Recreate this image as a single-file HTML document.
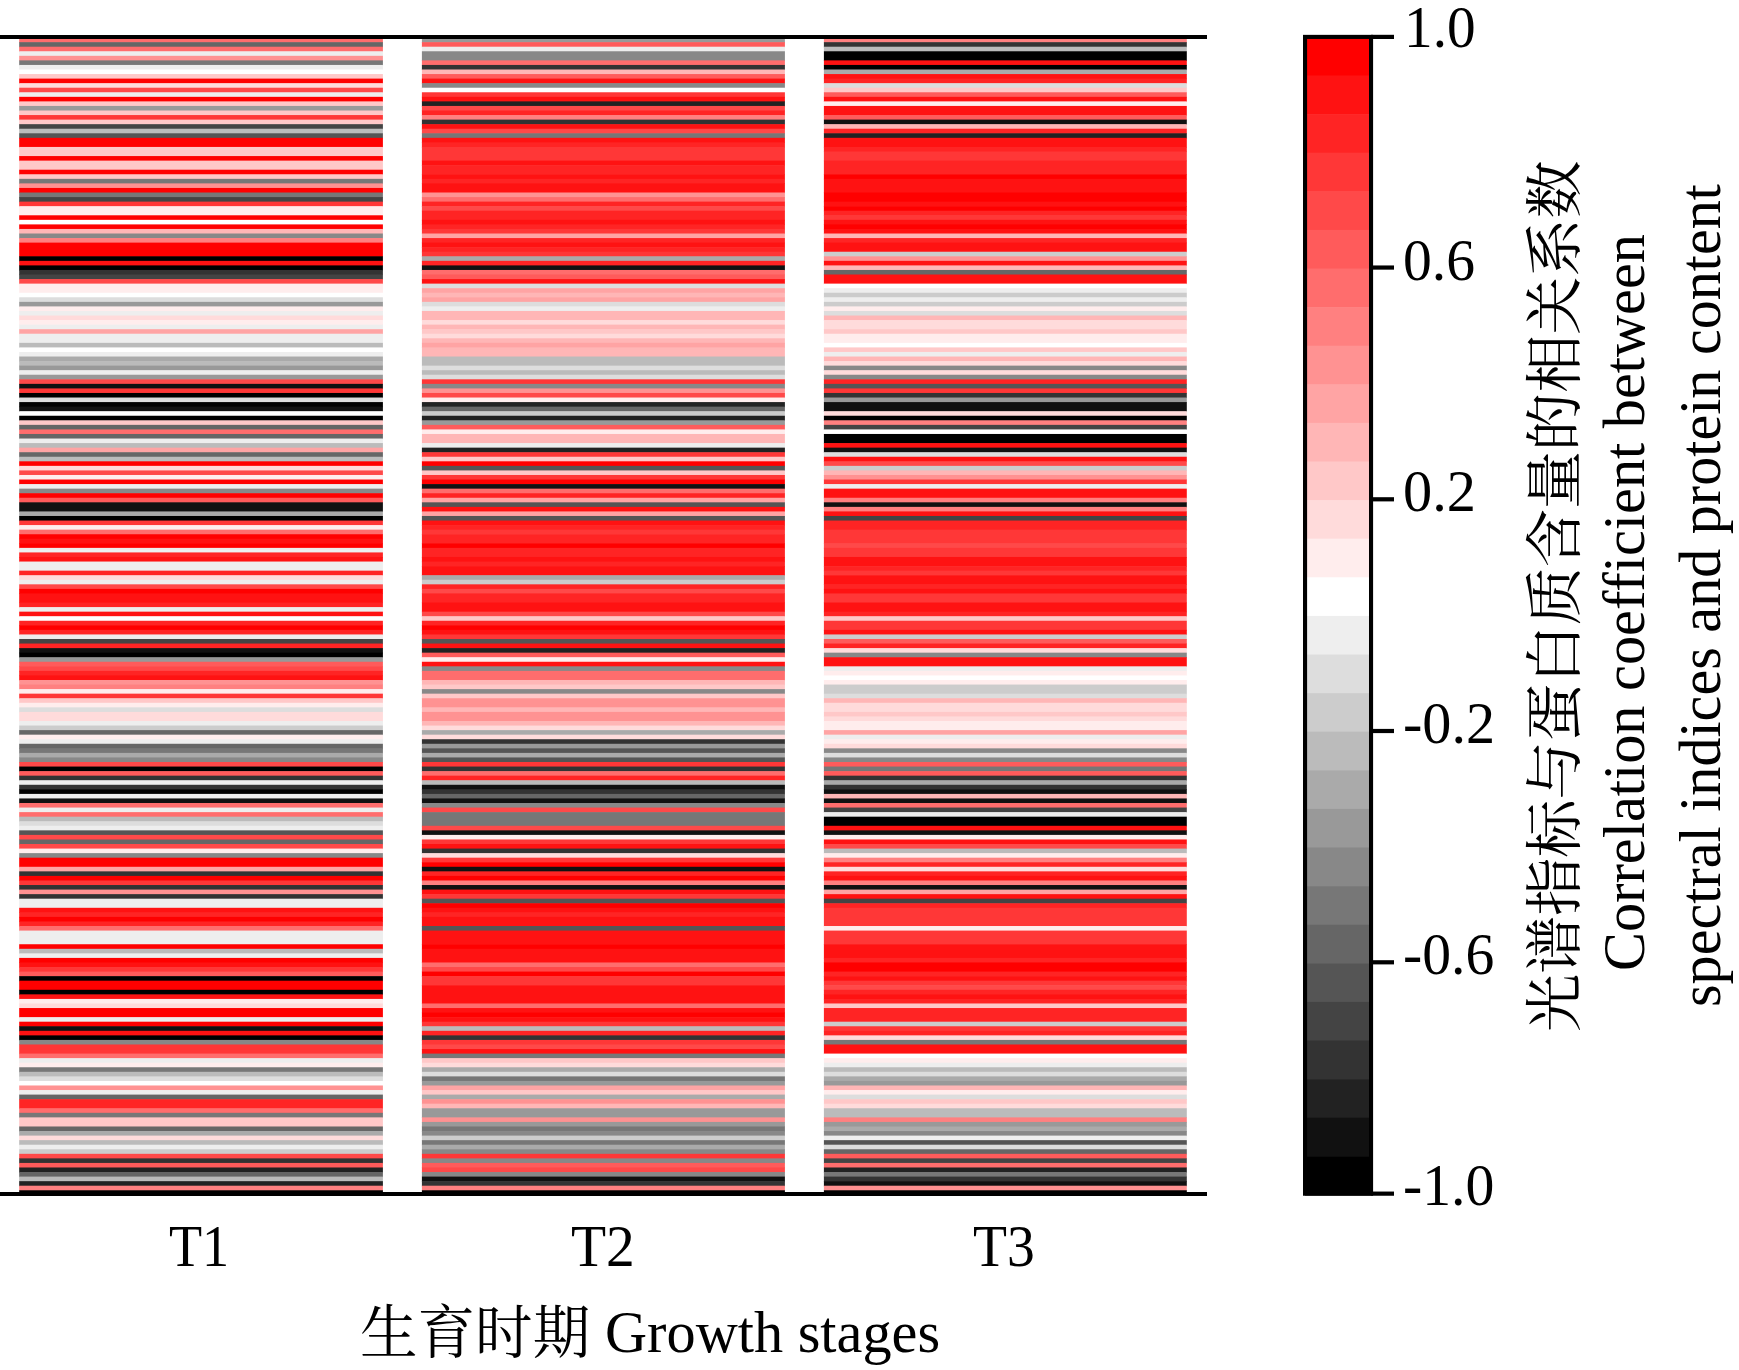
<!DOCTYPE html>
<html><head><meta charset="utf-8"><title>Heatmap</title>
<style>
html,body{margin:0;padding:0;background:#fff;}
body{width:1739px;height:1370px;position:relative;overflow:hidden;font-family:"Liberation Serif","Noto Serif CJK SC",serif;color:#000;}
svg{position:absolute;left:0;top:0;}
.t{position:absolute;white-space:nowrap;line-height:1;transform-origin:0 0;}
</style></head><body>
<svg width="1739" height="1370" viewBox="0 0 1739 1370">
<g>
<rect x="19.2" y="37.60" width="363.7" height="5.16" fill="#ff6d6d"/>
<rect x="19.2" y="42.16" width="363.7" height="5.16" fill="#666666"/>
<rect x="19.2" y="46.71" width="363.7" height="5.16" fill="#ff6d6d"/>
<rect x="19.2" y="51.27" width="363.7" height="5.16" fill="#eeeeee"/>
<rect x="19.2" y="55.82" width="363.7" height="5.16" fill="#ff9292"/>
<rect x="19.2" y="60.38" width="363.7" height="5.16" fill="#777777"/>
<rect x="19.2" y="64.94" width="363.7" height="5.16" fill="#eeeeee"/>
<rect x="19.2" y="69.49" width="363.7" height="5.16" fill="#ffffff"/>
<rect x="19.2" y="74.05" width="363.7" height="5.16" fill="#ffc8c8"/>
<rect x="19.2" y="78.60" width="363.7" height="5.16" fill="#ff0000"/>
<rect x="19.2" y="83.16" width="363.7" height="5.16" fill="#ffdbdb"/>
<rect x="19.2" y="87.72" width="363.7" height="5.16" fill="#ff4949"/>
<rect x="19.2" y="92.27" width="363.7" height="5.16" fill="#eeeeee"/>
<rect x="19.2" y="96.83" width="363.7" height="5.16" fill="#ff0000"/>
<rect x="19.2" y="101.38" width="363.7" height="5.16" fill="#ffc8c8"/>
<rect x="19.2" y="105.94" width="363.7" height="5.16" fill="#999999"/>
<rect x="19.2" y="110.50" width="363.7" height="5.16" fill="#ffc8c8"/>
<rect x="19.2" y="115.05" width="363.7" height="5.16" fill="#ff3737"/>
<rect x="19.2" y="119.61" width="363.7" height="5.16" fill="#ffc8c8"/>
<rect x="19.2" y="124.16" width="363.7" height="5.16" fill="#444444"/>
<rect x="19.2" y="128.72" width="363.7" height="5.16" fill="#bbbbbb"/>
<rect x="19.2" y="133.28" width="363.7" height="5.16" fill="#555555"/>
<rect x="19.2" y="137.83" width="363.7" height="9.71" fill="#ff0000"/>
<rect x="19.2" y="146.94" width="363.7" height="9.71" fill="#ffc8c8"/>
<rect x="19.2" y="156.06" width="363.7" height="5.16" fill="#ff0000"/>
<rect x="19.2" y="160.61" width="363.7" height="9.71" fill="#ffc8c8"/>
<rect x="19.2" y="169.72" width="363.7" height="5.16" fill="#ff0000"/>
<rect x="19.2" y="174.28" width="363.7" height="5.16" fill="#ffc8c8"/>
<rect x="19.2" y="178.84" width="363.7" height="5.16" fill="#777777"/>
<rect x="19.2" y="183.39" width="363.7" height="5.16" fill="#ff9292"/>
<rect x="19.2" y="187.95" width="363.7" height="5.16" fill="#ff0000"/>
<rect x="19.2" y="192.50" width="363.7" height="5.16" fill="#777777"/>
<rect x="19.2" y="197.06" width="363.7" height="5.16" fill="#444444"/>
<rect x="19.2" y="201.62" width="363.7" height="5.16" fill="#ff3737"/>
<rect x="19.2" y="206.17" width="363.7" height="9.71" fill="#ffeded"/>
<rect x="19.2" y="215.28" width="363.7" height="5.16" fill="#ff0000"/>
<rect x="19.2" y="219.84" width="363.7" height="5.16" fill="#ffffff"/>
<rect x="19.2" y="224.40" width="363.7" height="5.16" fill="#ff0000"/>
<rect x="19.2" y="228.95" width="363.7" height="5.16" fill="#ffb6b6"/>
<rect x="19.2" y="233.51" width="363.7" height="5.16" fill="#888888"/>
<rect x="19.2" y="238.06" width="363.7" height="5.16" fill="#ff8080"/>
<rect x="19.2" y="242.62" width="363.7" height="14.27" fill="#ff0000"/>
<rect x="19.2" y="256.29" width="363.7" height="5.16" fill="#000000"/>
<rect x="19.2" y="260.84" width="363.7" height="5.16" fill="#ff1212"/>
<rect x="19.2" y="265.40" width="363.7" height="5.16" fill="#000000"/>
<rect x="19.2" y="269.96" width="363.7" height="5.16" fill="#333333"/>
<rect x="19.2" y="274.51" width="363.7" height="5.16" fill="#444444"/>
<rect x="19.2" y="279.07" width="363.7" height="5.16" fill="#ff4949"/>
<rect x="19.2" y="283.62" width="363.7" height="9.71" fill="#ffeded"/>
<rect x="19.2" y="292.74" width="363.7" height="5.16" fill="#ffffff"/>
<rect x="19.2" y="297.29" width="363.7" height="5.16" fill="#dddddd"/>
<rect x="19.2" y="301.85" width="363.7" height="5.16" fill="#999999"/>
<rect x="19.2" y="306.40" width="363.7" height="5.16" fill="#ffeded"/>
<rect x="19.2" y="310.96" width="363.7" height="5.16" fill="#eeeeee"/>
<rect x="19.2" y="315.52" width="363.7" height="5.16" fill="#ffdbdb"/>
<rect x="19.2" y="320.07" width="363.7" height="5.16" fill="#ffeded"/>
<rect x="19.2" y="324.63" width="363.7" height="5.16" fill="#eeeeee"/>
<rect x="19.2" y="329.18" width="363.7" height="5.16" fill="#ffa4a4"/>
<rect x="19.2" y="333.74" width="363.7" height="9.71" fill="#eeeeee"/>
<rect x="19.2" y="342.85" width="363.7" height="5.16" fill="#bbbbbb"/>
<rect x="19.2" y="347.41" width="363.7" height="5.16" fill="#ffffff"/>
<rect x="19.2" y="351.96" width="363.7" height="5.16" fill="#eeeeee"/>
<rect x="19.2" y="356.52" width="363.7" height="5.16" fill="#aaaaaa"/>
<rect x="19.2" y="361.08" width="363.7" height="5.16" fill="#bbbbbb"/>
<rect x="19.2" y="365.63" width="363.7" height="5.16" fill="#999999"/>
<rect x="19.2" y="370.19" width="363.7" height="5.16" fill="#eeeeee"/>
<rect x="19.2" y="374.74" width="363.7" height="5.16" fill="#999999"/>
<rect x="19.2" y="379.30" width="363.7" height="5.16" fill="#ff4949"/>
<rect x="19.2" y="383.86" width="363.7" height="5.16" fill="#111111"/>
<rect x="19.2" y="388.41" width="363.7" height="5.16" fill="#ff3737"/>
<rect x="19.2" y="392.97" width="363.7" height="5.16" fill="#000000"/>
<rect x="19.2" y="397.52" width="363.7" height="5.16" fill="#dddddd"/>
<rect x="19.2" y="402.08" width="363.7" height="5.16" fill="#000000"/>
<rect x="19.2" y="406.64" width="363.7" height="5.16" fill="#111111"/>
<rect x="19.2" y="411.19" width="363.7" height="5.16" fill="#ffffff"/>
<rect x="19.2" y="415.75" width="363.7" height="5.16" fill="#000000"/>
<rect x="19.2" y="420.30" width="363.7" height="5.16" fill="#ffc8c8"/>
<rect x="19.2" y="424.86" width="363.7" height="5.16" fill="#666666"/>
<rect x="19.2" y="429.42" width="363.7" height="5.16" fill="#ff6d6d"/>
<rect x="19.2" y="433.97" width="363.7" height="5.16" fill="#666666"/>
<rect x="19.2" y="438.53" width="363.7" height="5.16" fill="#eeeeee"/>
<rect x="19.2" y="443.08" width="363.7" height="5.16" fill="#bbbbbb"/>
<rect x="19.2" y="447.64" width="363.7" height="5.16" fill="#ffa4a4"/>
<rect x="19.2" y="452.20" width="363.7" height="5.16" fill="#666666"/>
<rect x="19.2" y="456.75" width="363.7" height="5.16" fill="#bbbbbb"/>
<rect x="19.2" y="461.31" width="363.7" height="5.16" fill="#ff0000"/>
<rect x="19.2" y="465.86" width="363.7" height="5.16" fill="#ffdbdb"/>
<rect x="19.2" y="470.42" width="363.7" height="5.16" fill="#ff4949"/>
<rect x="19.2" y="474.98" width="363.7" height="5.16" fill="#ffeded"/>
<rect x="19.2" y="479.53" width="363.7" height="5.16" fill="#ff0000"/>
<rect x="19.2" y="484.09" width="363.7" height="5.16" fill="#eeeeee"/>
<rect x="19.2" y="488.64" width="363.7" height="5.16" fill="#888888"/>
<rect x="19.2" y="493.20" width="363.7" height="5.16" fill="#ff0000"/>
<rect x="19.2" y="497.76" width="363.7" height="5.16" fill="#ff5b5b"/>
<rect x="19.2" y="502.31" width="363.7" height="9.71" fill="#111111"/>
<rect x="19.2" y="511.42" width="363.7" height="5.16" fill="#aaaaaa"/>
<rect x="19.2" y="515.98" width="363.7" height="5.16" fill="#000000"/>
<rect x="19.2" y="520.54" width="363.7" height="5.16" fill="#ff3737"/>
<rect x="19.2" y="525.09" width="363.7" height="5.16" fill="#ffeded"/>
<rect x="19.2" y="529.65" width="363.7" height="5.16" fill="#ff6d6d"/>
<rect x="19.2" y="534.20" width="363.7" height="5.16" fill="#ff0000"/>
<rect x="19.2" y="538.76" width="363.7" height="5.16" fill="#ff1212"/>
<rect x="19.2" y="543.32" width="363.7" height="5.16" fill="#ff0000"/>
<rect x="19.2" y="547.87" width="363.7" height="5.16" fill="#eeeeee"/>
<rect x="19.2" y="552.43" width="363.7" height="5.16" fill="#ff2424"/>
<rect x="19.2" y="556.98" width="363.7" height="5.16" fill="#ff1212"/>
<rect x="19.2" y="561.54" width="363.7" height="9.71" fill="#eeeeee"/>
<rect x="19.2" y="570.65" width="363.7" height="5.16" fill="#ff2424"/>
<rect x="19.2" y="575.21" width="363.7" height="5.16" fill="#ffdbdb"/>
<rect x="19.2" y="579.76" width="363.7" height="5.16" fill="#eeeeee"/>
<rect x="19.2" y="584.32" width="363.7" height="5.16" fill="#ff4949"/>
<rect x="19.2" y="588.88" width="363.7" height="5.16" fill="#ff0000"/>
<rect x="19.2" y="593.43" width="363.7" height="9.71" fill="#ff1212"/>
<rect x="19.2" y="602.54" width="363.7" height="5.16" fill="#ff2424"/>
<rect x="19.2" y="607.10" width="363.7" height="5.16" fill="#eeeeee"/>
<rect x="19.2" y="611.66" width="363.7" height="5.16" fill="#ff1212"/>
<rect x="19.2" y="616.21" width="363.7" height="5.16" fill="#ffffff"/>
<rect x="19.2" y="620.77" width="363.7" height="5.16" fill="#ff2424"/>
<rect x="19.2" y="625.32" width="363.7" height="5.16" fill="#ff0000"/>
<rect x="19.2" y="629.88" width="363.7" height="5.16" fill="#ff2424"/>
<rect x="19.2" y="634.44" width="363.7" height="5.16" fill="#eeeeee"/>
<rect x="19.2" y="638.99" width="363.7" height="5.16" fill="#444444"/>
<rect x="19.2" y="643.55" width="363.7" height="5.16" fill="#ff2424"/>
<rect x="19.2" y="648.10" width="363.7" height="5.16" fill="#111111"/>
<rect x="19.2" y="652.66" width="363.7" height="5.16" fill="#000000"/>
<rect x="19.2" y="657.22" width="363.7" height="5.16" fill="#999999"/>
<rect x="19.2" y="661.77" width="363.7" height="5.16" fill="#ff5b5b"/>
<rect x="19.2" y="666.33" width="363.7" height="5.16" fill="#ff4949"/>
<rect x="19.2" y="670.88" width="363.7" height="5.16" fill="#ff2424"/>
<rect x="19.2" y="675.44" width="363.7" height="5.16" fill="#ff1212"/>
<rect x="19.2" y="680.00" width="363.7" height="5.16" fill="#ff9292"/>
<rect x="19.2" y="684.55" width="363.7" height="5.16" fill="#ff8080"/>
<rect x="19.2" y="689.11" width="363.7" height="5.16" fill="#ffeded"/>
<rect x="19.2" y="693.66" width="363.7" height="5.16" fill="#ff3737"/>
<rect x="19.2" y="698.22" width="363.7" height="5.16" fill="#ffc8c8"/>
<rect x="19.2" y="702.78" width="363.7" height="5.16" fill="#ffeded"/>
<rect x="19.2" y="707.33" width="363.7" height="5.16" fill="#dddddd"/>
<rect x="19.2" y="711.89" width="363.7" height="9.71" fill="#ffdbdb"/>
<rect x="19.2" y="721.00" width="363.7" height="5.16" fill="#eeeeee"/>
<rect x="19.2" y="725.56" width="363.7" height="5.16" fill="#cccccc"/>
<rect x="19.2" y="730.11" width="363.7" height="5.16" fill="#666666"/>
<rect x="19.2" y="734.67" width="363.7" height="5.16" fill="#ffeded"/>
<rect x="19.2" y="739.22" width="363.7" height="5.16" fill="#eeeeee"/>
<rect x="19.2" y="743.78" width="363.7" height="5.16" fill="#666666"/>
<rect x="19.2" y="748.34" width="363.7" height="5.16" fill="#777777"/>
<rect x="19.2" y="752.89" width="363.7" height="5.16" fill="#aaaaaa"/>
<rect x="19.2" y="757.45" width="363.7" height="5.16" fill="#888888"/>
<rect x="19.2" y="762.00" width="363.7" height="5.16" fill="#ff4949"/>
<rect x="19.2" y="766.56" width="363.7" height="5.16" fill="#000000"/>
<rect x="19.2" y="771.12" width="363.7" height="5.16" fill="#ff5b5b"/>
<rect x="19.2" y="775.67" width="363.7" height="5.16" fill="#333333"/>
<rect x="19.2" y="780.23" width="363.7" height="5.16" fill="#eeeeee"/>
<rect x="19.2" y="784.78" width="363.7" height="5.16" fill="#333333"/>
<rect x="19.2" y="789.34" width="363.7" height="5.16" fill="#000000"/>
<rect x="19.2" y="793.90" width="363.7" height="5.16" fill="#eeeeee"/>
<rect x="19.2" y="798.45" width="363.7" height="5.16" fill="#111111"/>
<rect x="19.2" y="803.01" width="363.7" height="5.16" fill="#ff6d6d"/>
<rect x="19.2" y="807.56" width="363.7" height="5.16" fill="#eeeeee"/>
<rect x="19.2" y="812.12" width="363.7" height="5.16" fill="#ff6d6d"/>
<rect x="19.2" y="816.68" width="363.7" height="5.16" fill="#bbbbbb"/>
<rect x="19.2" y="821.23" width="363.7" height="5.16" fill="#dddddd"/>
<rect x="19.2" y="825.79" width="363.7" height="5.16" fill="#eeeeee"/>
<rect x="19.2" y="830.34" width="363.7" height="5.16" fill="#555555"/>
<rect x="19.2" y="834.90" width="363.7" height="5.16" fill="#ff4949"/>
<rect x="19.2" y="839.46" width="363.7" height="5.16" fill="#666666"/>
<rect x="19.2" y="844.01" width="363.7" height="5.16" fill="#ff4949"/>
<rect x="19.2" y="848.57" width="363.7" height="5.16" fill="#ffeded"/>
<rect x="19.2" y="853.12" width="363.7" height="5.16" fill="#888888"/>
<rect x="19.2" y="857.68" width="363.7" height="9.71" fill="#ff0000"/>
<rect x="19.2" y="866.79" width="363.7" height="5.16" fill="#ffa4a4"/>
<rect x="19.2" y="871.35" width="363.7" height="5.16" fill="#333333"/>
<rect x="19.2" y="875.90" width="363.7" height="5.16" fill="#ff0000"/>
<rect x="19.2" y="880.46" width="363.7" height="5.16" fill="#ff3737"/>
<rect x="19.2" y="885.02" width="363.7" height="5.16" fill="#333333"/>
<rect x="19.2" y="889.57" width="363.7" height="5.16" fill="#ff9292"/>
<rect x="19.2" y="894.13" width="363.7" height="5.16" fill="#333333"/>
<rect x="19.2" y="898.68" width="363.7" height="9.71" fill="#eeeeee"/>
<rect x="19.2" y="907.80" width="363.7" height="5.16" fill="#ff1212"/>
<rect x="19.2" y="912.35" width="363.7" height="5.16" fill="#ff2424"/>
<rect x="19.2" y="916.91" width="363.7" height="5.16" fill="#ff0000"/>
<rect x="19.2" y="921.46" width="363.7" height="5.16" fill="#ff2424"/>
<rect x="19.2" y="926.02" width="363.7" height="5.16" fill="#ff6d6d"/>
<rect x="19.2" y="930.58" width="363.7" height="14.27" fill="#eeeeee"/>
<rect x="19.2" y="944.24" width="363.7" height="5.16" fill="#ff0000"/>
<rect x="19.2" y="948.80" width="363.7" height="5.16" fill="#bbbbbb"/>
<rect x="19.2" y="953.36" width="363.7" height="5.16" fill="#eeeeee"/>
<rect x="19.2" y="957.91" width="363.7" height="5.16" fill="#ff0000"/>
<rect x="19.2" y="962.47" width="363.7" height="5.16" fill="#ff1212"/>
<rect x="19.2" y="967.02" width="363.7" height="5.16" fill="#ff3737"/>
<rect x="19.2" y="971.58" width="363.7" height="5.16" fill="#ff5b5b"/>
<rect x="19.2" y="976.14" width="363.7" height="5.16" fill="#000000"/>
<rect x="19.2" y="980.69" width="363.7" height="9.71" fill="#ff0000"/>
<rect x="19.2" y="989.80" width="363.7" height="5.16" fill="#000000"/>
<rect x="19.2" y="994.36" width="363.7" height="5.16" fill="#ff1212"/>
<rect x="19.2" y="998.92" width="363.7" height="5.16" fill="#ffeded"/>
<rect x="19.2" y="1003.47" width="363.7" height="5.16" fill="#ffdbdb"/>
<rect x="19.2" y="1008.03" width="363.7" height="9.71" fill="#ff0000"/>
<rect x="19.2" y="1017.14" width="363.7" height="5.16" fill="#eeeeee"/>
<rect x="19.2" y="1021.70" width="363.7" height="5.16" fill="#ff0000"/>
<rect x="19.2" y="1026.25" width="363.7" height="5.16" fill="#111111"/>
<rect x="19.2" y="1030.81" width="363.7" height="5.16" fill="#ff1212"/>
<rect x="19.2" y="1035.36" width="363.7" height="5.16" fill="#000000"/>
<rect x="19.2" y="1039.92" width="363.7" height="5.16" fill="#888888"/>
<rect x="19.2" y="1044.48" width="363.7" height="9.71" fill="#ff3737"/>
<rect x="19.2" y="1053.59" width="363.7" height="5.16" fill="#ff6d6d"/>
<rect x="19.2" y="1058.14" width="363.7" height="5.16" fill="#eeeeee"/>
<rect x="19.2" y="1062.70" width="363.7" height="5.16" fill="#ffeded"/>
<rect x="19.2" y="1067.26" width="363.7" height="5.16" fill="#777777"/>
<rect x="19.2" y="1071.81" width="363.7" height="5.16" fill="#bbbbbb"/>
<rect x="19.2" y="1076.37" width="363.7" height="5.16" fill="#dddddd"/>
<rect x="19.2" y="1080.92" width="363.7" height="5.16" fill="#ffffff"/>
<rect x="19.2" y="1085.48" width="363.7" height="5.16" fill="#ff9292"/>
<rect x="19.2" y="1090.04" width="363.7" height="5.16" fill="#eeeeee"/>
<rect x="19.2" y="1094.59" width="363.7" height="5.16" fill="#666666"/>
<rect x="19.2" y="1099.15" width="363.7" height="9.71" fill="#ff2424"/>
<rect x="19.2" y="1108.26" width="363.7" height="5.16" fill="#ff6d6d"/>
<rect x="19.2" y="1112.82" width="363.7" height="5.16" fill="#777777"/>
<rect x="19.2" y="1117.37" width="363.7" height="9.71" fill="#ffc8c8"/>
<rect x="19.2" y="1126.48" width="363.7" height="5.16" fill="#666666"/>
<rect x="19.2" y="1131.04" width="363.7" height="5.16" fill="#aaaaaa"/>
<rect x="19.2" y="1135.60" width="363.7" height="5.16" fill="#ffdbdb"/>
<rect x="19.2" y="1140.15" width="363.7" height="5.16" fill="#bbbbbb"/>
<rect x="19.2" y="1144.71" width="363.7" height="5.16" fill="#eeeeee"/>
<rect x="19.2" y="1149.26" width="363.7" height="5.16" fill="#cccccc"/>
<rect x="19.2" y="1153.82" width="363.7" height="5.16" fill="#ff4949"/>
<rect x="19.2" y="1158.38" width="363.7" height="5.16" fill="#333333"/>
<rect x="19.2" y="1162.93" width="363.7" height="5.16" fill="#ff5b5b"/>
<rect x="19.2" y="1167.49" width="363.7" height="5.16" fill="#222222"/>
<rect x="19.2" y="1172.04" width="363.7" height="5.16" fill="#666666"/>
<rect x="19.2" y="1176.60" width="363.7" height="5.16" fill="#bbbbbb"/>
<rect x="19.2" y="1181.16" width="363.7" height="5.16" fill="#222222"/>
<rect x="19.2" y="1185.71" width="363.7" height="5.16" fill="#ff8080"/>
<rect x="19.2" y="1190.27" width="363.7" height="4.56" fill="#000000"/>
<rect x="421.9" y="37.60" width="363.0" height="5.16" fill="#999999"/>
<rect x="421.9" y="42.16" width="363.0" height="5.16" fill="#ff5b5b"/>
<rect x="421.9" y="46.71" width="363.0" height="5.16" fill="#eeeeee"/>
<rect x="421.9" y="51.27" width="363.0" height="9.71" fill="#888888"/>
<rect x="421.9" y="60.38" width="363.0" height="5.16" fill="#ff6d6d"/>
<rect x="421.9" y="64.94" width="363.0" height="5.16" fill="#333333"/>
<rect x="421.9" y="69.49" width="363.0" height="5.16" fill="#ffb6b6"/>
<rect x="421.9" y="74.05" width="363.0" height="5.16" fill="#ff5b5b"/>
<rect x="421.9" y="78.60" width="363.0" height="5.16" fill="#ff1212"/>
<rect x="421.9" y="83.16" width="363.0" height="5.16" fill="#888888"/>
<rect x="421.9" y="87.72" width="363.0" height="5.16" fill="#ffffff"/>
<rect x="421.9" y="92.27" width="363.0" height="5.16" fill="#ff3737"/>
<rect x="421.9" y="96.83" width="363.0" height="5.16" fill="#ff1212"/>
<rect x="421.9" y="101.38" width="363.0" height="5.16" fill="#222222"/>
<rect x="421.9" y="105.94" width="363.0" height="5.16" fill="#ff4949"/>
<rect x="421.9" y="110.50" width="363.0" height="5.16" fill="#ff2424"/>
<rect x="421.9" y="115.05" width="363.0" height="5.16" fill="#ff8080"/>
<rect x="421.9" y="119.61" width="363.0" height="5.16" fill="#333333"/>
<rect x="421.9" y="124.16" width="363.0" height="5.16" fill="#ff1212"/>
<rect x="421.9" y="128.72" width="363.0" height="5.16" fill="#ff4949"/>
<rect x="421.9" y="133.28" width="363.0" height="5.16" fill="#777777"/>
<rect x="421.9" y="137.83" width="363.0" height="5.16" fill="#ff1212"/>
<rect x="421.9" y="142.39" width="363.0" height="5.16" fill="#ff2424"/>
<rect x="421.9" y="146.94" width="363.0" height="14.27" fill="#ff3737"/>
<rect x="421.9" y="160.61" width="363.0" height="5.16" fill="#ff1212"/>
<rect x="421.9" y="165.17" width="363.0" height="9.71" fill="#ff2424"/>
<rect x="421.9" y="174.28" width="363.0" height="5.16" fill="#ff1212"/>
<rect x="421.9" y="178.84" width="363.0" height="5.16" fill="#ff2424"/>
<rect x="421.9" y="183.39" width="363.0" height="9.71" fill="#ff1212"/>
<rect x="421.9" y="192.50" width="363.0" height="5.16" fill="#ff9292"/>
<rect x="421.9" y="197.06" width="363.0" height="5.16" fill="#ff6d6d"/>
<rect x="421.9" y="201.62" width="363.0" height="5.16" fill="#ff2424"/>
<rect x="421.9" y="206.17" width="363.0" height="5.16" fill="#ff4949"/>
<rect x="421.9" y="210.73" width="363.0" height="9.71" fill="#ff2424"/>
<rect x="421.9" y="219.84" width="363.0" height="5.16" fill="#ff1212"/>
<rect x="421.9" y="224.40" width="363.0" height="5.16" fill="#ff2424"/>
<rect x="421.9" y="228.95" width="363.0" height="5.16" fill="#ff3737"/>
<rect x="421.9" y="233.51" width="363.0" height="5.16" fill="#ffa4a4"/>
<rect x="421.9" y="238.06" width="363.0" height="5.16" fill="#ff2424"/>
<rect x="421.9" y="242.62" width="363.0" height="5.16" fill="#ff1212"/>
<rect x="421.9" y="247.18" width="363.0" height="5.16" fill="#ff2424"/>
<rect x="421.9" y="251.73" width="363.0" height="5.16" fill="#ff3737"/>
<rect x="421.9" y="256.29" width="363.0" height="5.16" fill="#aaaaaa"/>
<rect x="421.9" y="260.84" width="363.0" height="5.16" fill="#ff2424"/>
<rect x="421.9" y="265.40" width="363.0" height="5.16" fill="#111111"/>
<rect x="421.9" y="269.96" width="363.0" height="5.16" fill="#ff6d6d"/>
<rect x="421.9" y="274.51" width="363.0" height="5.16" fill="#ff5b5b"/>
<rect x="421.9" y="279.07" width="363.0" height="5.16" fill="#ff1212"/>
<rect x="421.9" y="283.62" width="363.0" height="5.16" fill="#dddddd"/>
<rect x="421.9" y="288.18" width="363.0" height="5.16" fill="#ffa4a4"/>
<rect x="421.9" y="292.74" width="363.0" height="5.16" fill="#ffb6b6"/>
<rect x="421.9" y="297.29" width="363.0" height="5.16" fill="#ffa4a4"/>
<rect x="421.9" y="301.85" width="363.0" height="5.16" fill="#dddddd"/>
<rect x="421.9" y="306.40" width="363.0" height="5.16" fill="#eeeeee"/>
<rect x="421.9" y="310.96" width="363.0" height="9.71" fill="#ffb6b6"/>
<rect x="421.9" y="320.07" width="363.0" height="5.16" fill="#ffdbdb"/>
<rect x="421.9" y="324.63" width="363.0" height="5.16" fill="#ffb6b6"/>
<rect x="421.9" y="329.18" width="363.0" height="5.16" fill="#ffc8c8"/>
<rect x="421.9" y="333.74" width="363.0" height="5.16" fill="#ffdbdb"/>
<rect x="421.9" y="338.30" width="363.0" height="5.16" fill="#ffb6b6"/>
<rect x="421.9" y="342.85" width="363.0" height="5.16" fill="#ffa4a4"/>
<rect x="421.9" y="347.41" width="363.0" height="9.71" fill="#ffb6b6"/>
<rect x="421.9" y="356.52" width="363.0" height="9.71" fill="#bbbbbb"/>
<rect x="421.9" y="365.63" width="363.0" height="5.16" fill="#dddddd"/>
<rect x="421.9" y="370.19" width="363.0" height="5.16" fill="#bbbbbb"/>
<rect x="421.9" y="374.74" width="363.0" height="5.16" fill="#dddddd"/>
<rect x="421.9" y="379.30" width="363.0" height="5.16" fill="#ff3737"/>
<rect x="421.9" y="383.86" width="363.0" height="5.16" fill="#888888"/>
<rect x="421.9" y="388.41" width="363.0" height="5.16" fill="#ff9292"/>
<rect x="421.9" y="392.97" width="363.0" height="5.16" fill="#ff4949"/>
<rect x="421.9" y="397.52" width="363.0" height="5.16" fill="#ffeded"/>
<rect x="421.9" y="402.08" width="363.0" height="5.16" fill="#222222"/>
<rect x="421.9" y="406.64" width="363.0" height="5.16" fill="#666666"/>
<rect x="421.9" y="411.19" width="363.0" height="5.16" fill="#cccccc"/>
<rect x="421.9" y="415.75" width="363.0" height="5.16" fill="#222222"/>
<rect x="421.9" y="420.30" width="363.0" height="5.16" fill="#999999"/>
<rect x="421.9" y="424.86" width="363.0" height="5.16" fill="#ff5b5b"/>
<rect x="421.9" y="429.42" width="363.0" height="5.16" fill="#ffeded"/>
<rect x="421.9" y="433.97" width="363.0" height="9.71" fill="#ffb6b6"/>
<rect x="421.9" y="443.08" width="363.0" height="5.16" fill="#eeeeee"/>
<rect x="421.9" y="447.64" width="363.0" height="5.16" fill="#222222"/>
<rect x="421.9" y="452.20" width="363.0" height="5.16" fill="#ff3737"/>
<rect x="421.9" y="456.75" width="363.0" height="5.16" fill="#ffc8c8"/>
<rect x="421.9" y="461.31" width="363.0" height="5.16" fill="#ff0000"/>
<rect x="421.9" y="465.86" width="363.0" height="5.16" fill="#555555"/>
<rect x="421.9" y="470.42" width="363.0" height="5.16" fill="#ffc8c8"/>
<rect x="421.9" y="474.98" width="363.0" height="5.16" fill="#ff3737"/>
<rect x="421.9" y="479.53" width="363.0" height="5.16" fill="#ff0000"/>
<rect x="421.9" y="484.09" width="363.0" height="5.16" fill="#111111"/>
<rect x="421.9" y="488.64" width="363.0" height="5.16" fill="#ff6d6d"/>
<rect x="421.9" y="493.20" width="363.0" height="5.16" fill="#ff2424"/>
<rect x="421.9" y="497.76" width="363.0" height="5.16" fill="#ffa4a4"/>
<rect x="421.9" y="502.31" width="363.0" height="5.16" fill="#555555"/>
<rect x="421.9" y="506.87" width="363.0" height="5.16" fill="#ff1212"/>
<rect x="421.9" y="511.42" width="363.0" height="5.16" fill="#ffa4a4"/>
<rect x="421.9" y="515.98" width="363.0" height="5.16" fill="#555555"/>
<rect x="421.9" y="520.54" width="363.0" height="5.16" fill="#ff1212"/>
<rect x="421.9" y="525.09" width="363.0" height="5.16" fill="#ff2424"/>
<rect x="421.9" y="529.65" width="363.0" height="5.16" fill="#ff3737"/>
<rect x="421.9" y="534.20" width="363.0" height="9.71" fill="#ff2424"/>
<rect x="421.9" y="543.32" width="363.0" height="5.16" fill="#ff0000"/>
<rect x="421.9" y="547.87" width="363.0" height="9.71" fill="#ff2424"/>
<rect x="421.9" y="556.98" width="363.0" height="5.16" fill="#ff1212"/>
<rect x="421.9" y="561.54" width="363.0" height="5.16" fill="#ff2424"/>
<rect x="421.9" y="566.10" width="363.0" height="9.71" fill="#ff1212"/>
<rect x="421.9" y="575.21" width="363.0" height="5.16" fill="#aaaaaa"/>
<rect x="421.9" y="579.76" width="363.0" height="5.16" fill="#cccccc"/>
<rect x="421.9" y="584.32" width="363.0" height="5.16" fill="#ff2424"/>
<rect x="421.9" y="588.88" width="363.0" height="5.16" fill="#ff4949"/>
<rect x="421.9" y="593.43" width="363.0" height="9.71" fill="#ff2424"/>
<rect x="421.9" y="602.54" width="363.0" height="9.71" fill="#ff1212"/>
<rect x="421.9" y="611.66" width="363.0" height="5.16" fill="#ff4949"/>
<rect x="421.9" y="616.21" width="363.0" height="5.16" fill="#ffc8c8"/>
<rect x="421.9" y="620.77" width="363.0" height="5.16" fill="#ff2424"/>
<rect x="421.9" y="625.32" width="363.0" height="5.16" fill="#ff0000"/>
<rect x="421.9" y="629.88" width="363.0" height="5.16" fill="#ff1212"/>
<rect x="421.9" y="634.44" width="363.0" height="5.16" fill="#ff3737"/>
<rect x="421.9" y="638.99" width="363.0" height="5.16" fill="#555555"/>
<rect x="421.9" y="643.55" width="363.0" height="5.16" fill="#ff1212"/>
<rect x="421.9" y="648.10" width="363.0" height="5.16" fill="#222222"/>
<rect x="421.9" y="652.66" width="363.0" height="5.16" fill="#ff5b5b"/>
<rect x="421.9" y="657.22" width="363.0" height="5.16" fill="#ffeded"/>
<rect x="421.9" y="661.77" width="363.0" height="5.16" fill="#ff1212"/>
<rect x="421.9" y="666.33" width="363.0" height="5.16" fill="#888888"/>
<rect x="421.9" y="670.88" width="363.0" height="9.71" fill="#ff6d6d"/>
<rect x="421.9" y="680.00" width="363.0" height="5.16" fill="#ffb6b6"/>
<rect x="421.9" y="684.55" width="363.0" height="5.16" fill="#ffc8c8"/>
<rect x="421.9" y="689.11" width="363.0" height="5.16" fill="#888888"/>
<rect x="421.9" y="693.66" width="363.0" height="5.16" fill="#ffc8c8"/>
<rect x="421.9" y="698.22" width="363.0" height="9.71" fill="#ff9292"/>
<rect x="421.9" y="707.33" width="363.0" height="5.16" fill="#ffb6b6"/>
<rect x="421.9" y="711.89" width="363.0" height="9.71" fill="#ff9292"/>
<rect x="421.9" y="721.00" width="363.0" height="5.16" fill="#ffb6b6"/>
<rect x="421.9" y="725.56" width="363.0" height="5.16" fill="#ffdbdb"/>
<rect x="421.9" y="730.11" width="363.0" height="5.16" fill="#aaaaaa"/>
<rect x="421.9" y="734.67" width="363.0" height="5.16" fill="#ffdbdb"/>
<rect x="421.9" y="739.22" width="363.0" height="5.16" fill="#333333"/>
<rect x="421.9" y="743.78" width="363.0" height="5.16" fill="#999999"/>
<rect x="421.9" y="748.34" width="363.0" height="5.16" fill="#555555"/>
<rect x="421.9" y="752.89" width="363.0" height="5.16" fill="#aaaaaa"/>
<rect x="421.9" y="757.45" width="363.0" height="5.16" fill="#555555"/>
<rect x="421.9" y="762.00" width="363.0" height="5.16" fill="#ff3737"/>
<rect x="421.9" y="766.56" width="363.0" height="5.16" fill="#333333"/>
<rect x="421.9" y="771.12" width="363.0" height="5.16" fill="#ff6d6d"/>
<rect x="421.9" y="775.67" width="363.0" height="5.16" fill="#ff2424"/>
<rect x="421.9" y="780.23" width="363.0" height="5.16" fill="#bbbbbb"/>
<rect x="421.9" y="784.78" width="363.0" height="5.16" fill="#111111"/>
<rect x="421.9" y="789.34" width="363.0" height="5.16" fill="#333333"/>
<rect x="421.9" y="793.90" width="363.0" height="5.16" fill="#666666"/>
<rect x="421.9" y="798.45" width="363.0" height="5.16" fill="#111111"/>
<rect x="421.9" y="803.01" width="363.0" height="5.16" fill="#888888"/>
<rect x="421.9" y="807.56" width="363.0" height="5.16" fill="#ff4949"/>
<rect x="421.9" y="812.12" width="363.0" height="14.27" fill="#777777"/>
<rect x="421.9" y="825.79" width="363.0" height="5.16" fill="#ff4949"/>
<rect x="421.9" y="830.34" width="363.0" height="5.16" fill="#111111"/>
<rect x="421.9" y="834.90" width="363.0" height="5.16" fill="#ffeded"/>
<rect x="421.9" y="839.46" width="363.0" height="5.16" fill="#ff3737"/>
<rect x="421.9" y="844.01" width="363.0" height="5.16" fill="#ff1212"/>
<rect x="421.9" y="848.57" width="363.0" height="5.16" fill="#333333"/>
<rect x="421.9" y="853.12" width="363.0" height="5.16" fill="#ffdbdb"/>
<rect x="421.9" y="857.68" width="363.0" height="5.16" fill="#ff3737"/>
<rect x="421.9" y="862.24" width="363.0" height="5.16" fill="#ff0000"/>
<rect x="421.9" y="866.79" width="363.0" height="5.16" fill="#111111"/>
<rect x="421.9" y="871.35" width="363.0" height="5.16" fill="#ff2424"/>
<rect x="421.9" y="875.90" width="363.0" height="5.16" fill="#ff0000"/>
<rect x="421.9" y="880.46" width="363.0" height="5.16" fill="#ff8080"/>
<rect x="421.9" y="885.02" width="363.0" height="5.16" fill="#111111"/>
<rect x="421.9" y="889.57" width="363.0" height="5.16" fill="#ff1212"/>
<rect x="421.9" y="894.13" width="363.0" height="5.16" fill="#ff3737"/>
<rect x="421.9" y="898.68" width="363.0" height="5.16" fill="#555555"/>
<rect x="421.9" y="903.24" width="363.0" height="5.16" fill="#ff0000"/>
<rect x="421.9" y="907.80" width="363.0" height="5.16" fill="#ff1212"/>
<rect x="421.9" y="912.35" width="363.0" height="5.16" fill="#ff2424"/>
<rect x="421.9" y="916.91" width="363.0" height="9.71" fill="#ff1212"/>
<rect x="421.9" y="926.02" width="363.0" height="5.16" fill="#555555"/>
<rect x="421.9" y="930.58" width="363.0" height="14.27" fill="#ff1212"/>
<rect x="421.9" y="944.24" width="363.0" height="5.16" fill="#ff0000"/>
<rect x="421.9" y="948.80" width="363.0" height="14.27" fill="#ff1212"/>
<rect x="421.9" y="962.47" width="363.0" height="5.16" fill="#ff6d6d"/>
<rect x="421.9" y="967.02" width="363.0" height="5.16" fill="#ff4949"/>
<rect x="421.9" y="971.58" width="363.0" height="5.16" fill="#ff0000"/>
<rect x="421.9" y="976.14" width="363.0" height="9.71" fill="#ff3737"/>
<rect x="421.9" y="985.25" width="363.0" height="18.82" fill="#ff1212"/>
<rect x="421.9" y="1003.47" width="363.0" height="5.16" fill="#ff6d6d"/>
<rect x="421.9" y="1008.03" width="363.0" height="5.16" fill="#ff1212"/>
<rect x="421.9" y="1012.58" width="363.0" height="5.16" fill="#ff0000"/>
<rect x="421.9" y="1017.14" width="363.0" height="5.16" fill="#ff1212"/>
<rect x="421.9" y="1021.70" width="363.0" height="5.16" fill="#ff3737"/>
<rect x="421.9" y="1026.25" width="363.0" height="5.16" fill="#bbbbbb"/>
<rect x="421.9" y="1030.81" width="363.0" height="5.16" fill="#ff2424"/>
<rect x="421.9" y="1035.36" width="363.0" height="5.16" fill="#333333"/>
<rect x="421.9" y="1039.92" width="363.0" height="5.16" fill="#ff3737"/>
<rect x="421.9" y="1044.48" width="363.0" height="5.16" fill="#ff4949"/>
<rect x="421.9" y="1049.03" width="363.0" height="5.16" fill="#ff1212"/>
<rect x="421.9" y="1053.59" width="363.0" height="5.16" fill="#777777"/>
<rect x="421.9" y="1058.14" width="363.0" height="5.16" fill="#ffc8c8"/>
<rect x="421.9" y="1062.70" width="363.0" height="5.16" fill="#ffdbdb"/>
<rect x="421.9" y="1067.26" width="363.0" height="5.16" fill="#aaaaaa"/>
<rect x="421.9" y="1071.81" width="363.0" height="5.16" fill="#dddddd"/>
<rect x="421.9" y="1076.37" width="363.0" height="5.16" fill="#777777"/>
<rect x="421.9" y="1080.92" width="363.0" height="5.16" fill="#999999"/>
<rect x="421.9" y="1085.48" width="363.0" height="5.16" fill="#ffa4a4"/>
<rect x="421.9" y="1090.04" width="363.0" height="5.16" fill="#ffc8c8"/>
<rect x="421.9" y="1094.59" width="363.0" height="5.16" fill="#aaaaaa"/>
<rect x="421.9" y="1099.15" width="363.0" height="5.16" fill="#ff9292"/>
<rect x="421.9" y="1103.70" width="363.0" height="5.16" fill="#ffb6b6"/>
<rect x="421.9" y="1108.26" width="363.0" height="9.71" fill="#999999"/>
<rect x="421.9" y="1117.37" width="363.0" height="5.16" fill="#ff9292"/>
<rect x="421.9" y="1121.93" width="363.0" height="5.16" fill="#999999"/>
<rect x="421.9" y="1126.48" width="363.0" height="5.16" fill="#777777"/>
<rect x="421.9" y="1131.04" width="363.0" height="5.16" fill="#888888"/>
<rect x="421.9" y="1135.60" width="363.0" height="5.16" fill="#cccccc"/>
<rect x="421.9" y="1140.15" width="363.0" height="5.16" fill="#777777"/>
<rect x="421.9" y="1144.71" width="363.0" height="5.16" fill="#aaaaaa"/>
<rect x="421.9" y="1149.26" width="363.0" height="5.16" fill="#888888"/>
<rect x="421.9" y="1153.82" width="363.0" height="5.16" fill="#ff3737"/>
<rect x="421.9" y="1158.38" width="363.0" height="5.16" fill="#888888"/>
<rect x="421.9" y="1162.93" width="363.0" height="5.16" fill="#ff5b5b"/>
<rect x="421.9" y="1167.49" width="363.0" height="5.16" fill="#ff4949"/>
<rect x="421.9" y="1172.04" width="363.0" height="5.16" fill="#888888"/>
<rect x="421.9" y="1176.60" width="363.0" height="5.16" fill="#111111"/>
<rect x="421.9" y="1181.16" width="363.0" height="5.16" fill="#333333"/>
<rect x="421.9" y="1185.71" width="363.0" height="5.16" fill="#ff8080"/>
<rect x="421.9" y="1190.27" width="363.0" height="4.56" fill="#000000"/>
<rect x="823.9" y="37.60" width="362.9" height="5.16" fill="#ff8080"/>
<rect x="823.9" y="42.16" width="362.9" height="5.16" fill="#333333"/>
<rect x="823.9" y="46.71" width="362.9" height="5.16" fill="#bbbbbb"/>
<rect x="823.9" y="51.27" width="362.9" height="9.71" fill="#000000"/>
<rect x="823.9" y="60.38" width="362.9" height="5.16" fill="#ff1212"/>
<rect x="823.9" y="64.94" width="362.9" height="5.16" fill="#000000"/>
<rect x="823.9" y="69.49" width="362.9" height="5.16" fill="#aaaaaa"/>
<rect x="823.9" y="74.05" width="362.9" height="5.16" fill="#ff1212"/>
<rect x="823.9" y="78.60" width="362.9" height="5.16" fill="#ff2424"/>
<rect x="823.9" y="83.16" width="362.9" height="5.16" fill="#dddddd"/>
<rect x="823.9" y="87.72" width="362.9" height="5.16" fill="#ffc8c8"/>
<rect x="823.9" y="92.27" width="362.9" height="5.16" fill="#ff5b5b"/>
<rect x="823.9" y="96.83" width="362.9" height="5.16" fill="#ff1212"/>
<rect x="823.9" y="101.38" width="362.9" height="5.16" fill="#ffeded"/>
<rect x="823.9" y="105.94" width="362.9" height="9.71" fill="#ff1212"/>
<rect x="823.9" y="115.05" width="362.9" height="5.16" fill="#ff5b5b"/>
<rect x="823.9" y="119.61" width="362.9" height="5.16" fill="#111111"/>
<rect x="823.9" y="124.16" width="362.9" height="5.16" fill="#ffb6b6"/>
<rect x="823.9" y="128.72" width="362.9" height="5.16" fill="#ff2424"/>
<rect x="823.9" y="133.28" width="362.9" height="5.16" fill="#222222"/>
<rect x="823.9" y="137.83" width="362.9" height="9.71" fill="#ff1212"/>
<rect x="823.9" y="146.94" width="362.9" height="5.16" fill="#ff2424"/>
<rect x="823.9" y="151.50" width="362.9" height="9.71" fill="#ff3737"/>
<rect x="823.9" y="160.61" width="362.9" height="14.27" fill="#ff2424"/>
<rect x="823.9" y="174.28" width="362.9" height="5.16" fill="#ff0000"/>
<rect x="823.9" y="178.84" width="362.9" height="14.27" fill="#ff1212"/>
<rect x="823.9" y="192.50" width="362.9" height="9.71" fill="#ff0000"/>
<rect x="823.9" y="201.62" width="362.9" height="5.16" fill="#ff1212"/>
<rect x="823.9" y="206.17" width="362.9" height="5.16" fill="#ff0000"/>
<rect x="823.9" y="210.73" width="362.9" height="5.16" fill="#ff2424"/>
<rect x="823.9" y="215.28" width="362.9" height="5.16" fill="#ff3737"/>
<rect x="823.9" y="219.84" width="362.9" height="5.16" fill="#ff1212"/>
<rect x="823.9" y="224.40" width="362.9" height="5.16" fill="#ff0000"/>
<rect x="823.9" y="228.95" width="362.9" height="5.16" fill="#ff1212"/>
<rect x="823.9" y="233.51" width="362.9" height="5.16" fill="#ffb6b6"/>
<rect x="823.9" y="238.06" width="362.9" height="5.16" fill="#ff2424"/>
<rect x="823.9" y="242.62" width="362.9" height="9.71" fill="#ff1212"/>
<rect x="823.9" y="251.73" width="362.9" height="5.16" fill="#cccccc"/>
<rect x="823.9" y="256.29" width="362.9" height="5.16" fill="#ff9292"/>
<rect x="823.9" y="260.84" width="362.9" height="5.16" fill="#ff1212"/>
<rect x="823.9" y="265.40" width="362.9" height="5.16" fill="#ffb6b6"/>
<rect x="823.9" y="269.96" width="362.9" height="5.16" fill="#666666"/>
<rect x="823.9" y="274.51" width="362.9" height="9.71" fill="#ff1212"/>
<rect x="823.9" y="283.62" width="362.9" height="5.16" fill="#ffffff"/>
<rect x="823.9" y="288.18" width="362.9" height="5.16" fill="#eeeeee"/>
<rect x="823.9" y="292.74" width="362.9" height="5.16" fill="#cccccc"/>
<rect x="823.9" y="297.29" width="362.9" height="5.16" fill="#eeeeee"/>
<rect x="823.9" y="301.85" width="362.9" height="5.16" fill="#cccccc"/>
<rect x="823.9" y="306.40" width="362.9" height="5.16" fill="#ffeded"/>
<rect x="823.9" y="310.96" width="362.9" height="5.16" fill="#dddddd"/>
<rect x="823.9" y="315.52" width="362.9" height="5.16" fill="#ffb6b6"/>
<rect x="823.9" y="320.07" width="362.9" height="9.71" fill="#ffdbdb"/>
<rect x="823.9" y="329.18" width="362.9" height="5.16" fill="#ffc8c8"/>
<rect x="823.9" y="333.74" width="362.9" height="9.71" fill="#ffeded"/>
<rect x="823.9" y="342.85" width="362.9" height="5.16" fill="#ffffff"/>
<rect x="823.9" y="347.41" width="362.9" height="5.16" fill="#ffc8c8"/>
<rect x="823.9" y="351.96" width="362.9" height="5.16" fill="#eeeeee"/>
<rect x="823.9" y="356.52" width="362.9" height="5.16" fill="#ffb6b6"/>
<rect x="823.9" y="361.08" width="362.9" height="5.16" fill="#ffdbdb"/>
<rect x="823.9" y="365.63" width="362.9" height="5.16" fill="#888888"/>
<rect x="823.9" y="370.19" width="362.9" height="5.16" fill="#ffdbdb"/>
<rect x="823.9" y="374.74" width="362.9" height="5.16" fill="#888888"/>
<rect x="823.9" y="379.30" width="362.9" height="5.16" fill="#ff2424"/>
<rect x="823.9" y="383.86" width="362.9" height="5.16" fill="#555555"/>
<rect x="823.9" y="388.41" width="362.9" height="5.16" fill="#ff3737"/>
<rect x="823.9" y="392.97" width="362.9" height="5.16" fill="#333333"/>
<rect x="823.9" y="397.52" width="362.9" height="5.16" fill="#999999"/>
<rect x="823.9" y="402.08" width="362.9" height="9.71" fill="#111111"/>
<rect x="823.9" y="411.19" width="362.9" height="5.16" fill="#ffdbdb"/>
<rect x="823.9" y="415.75" width="362.9" height="5.16" fill="#000000"/>
<rect x="823.9" y="420.30" width="362.9" height="5.16" fill="#ff8080"/>
<rect x="823.9" y="424.86" width="362.9" height="5.16" fill="#444444"/>
<rect x="823.9" y="429.42" width="362.9" height="5.16" fill="#ffffff"/>
<rect x="823.9" y="433.97" width="362.9" height="9.71" fill="#000000"/>
<rect x="823.9" y="443.08" width="362.9" height="5.16" fill="#ff1212"/>
<rect x="823.9" y="447.64" width="362.9" height="5.16" fill="#111111"/>
<rect x="823.9" y="452.20" width="362.9" height="5.16" fill="#dddddd"/>
<rect x="823.9" y="456.75" width="362.9" height="5.16" fill="#ff1212"/>
<rect x="823.9" y="461.31" width="362.9" height="5.16" fill="#ff4949"/>
<rect x="823.9" y="465.86" width="362.9" height="5.16" fill="#cccccc"/>
<rect x="823.9" y="470.42" width="362.9" height="5.16" fill="#ffb6b6"/>
<rect x="823.9" y="474.98" width="362.9" height="5.16" fill="#ff9292"/>
<rect x="823.9" y="479.53" width="362.9" height="5.16" fill="#ff3737"/>
<rect x="823.9" y="484.09" width="362.9" height="5.16" fill="#eeeeee"/>
<rect x="823.9" y="488.64" width="362.9" height="9.71" fill="#ff1212"/>
<rect x="823.9" y="497.76" width="362.9" height="5.16" fill="#ff8080"/>
<rect x="823.9" y="502.31" width="362.9" height="5.16" fill="#111111"/>
<rect x="823.9" y="506.87" width="362.9" height="5.16" fill="#ff8080"/>
<rect x="823.9" y="511.42" width="362.9" height="5.16" fill="#ff1212"/>
<rect x="823.9" y="515.98" width="362.9" height="5.16" fill="#444444"/>
<rect x="823.9" y="520.54" width="362.9" height="9.71" fill="#ff2424"/>
<rect x="823.9" y="529.65" width="362.9" height="14.27" fill="#ff3737"/>
<rect x="823.9" y="543.32" width="362.9" height="5.16" fill="#ff4949"/>
<rect x="823.9" y="547.87" width="362.9" height="9.71" fill="#ff3737"/>
<rect x="823.9" y="556.98" width="362.9" height="9.71" fill="#ff1212"/>
<rect x="823.9" y="566.10" width="362.9" height="5.16" fill="#ff2424"/>
<rect x="823.9" y="570.65" width="362.9" height="5.16" fill="#ff3737"/>
<rect x="823.9" y="575.21" width="362.9" height="9.71" fill="#ff1212"/>
<rect x="823.9" y="584.32" width="362.9" height="5.16" fill="#ff2424"/>
<rect x="823.9" y="588.88" width="362.9" height="5.16" fill="#ff1212"/>
<rect x="823.9" y="593.43" width="362.9" height="9.71" fill="#ff3737"/>
<rect x="823.9" y="602.54" width="362.9" height="9.71" fill="#ff1212"/>
<rect x="823.9" y="611.66" width="362.9" height="5.16" fill="#ff2424"/>
<rect x="823.9" y="616.21" width="362.9" height="5.16" fill="#ffc8c8"/>
<rect x="823.9" y="620.77" width="362.9" height="9.71" fill="#ff3737"/>
<rect x="823.9" y="629.88" width="362.9" height="5.16" fill="#ff1212"/>
<rect x="823.9" y="634.44" width="362.9" height="5.16" fill="#cccccc"/>
<rect x="823.9" y="638.99" width="362.9" height="5.16" fill="#ff5b5b"/>
<rect x="823.9" y="643.55" width="362.9" height="5.16" fill="#ff2424"/>
<rect x="823.9" y="648.10" width="362.9" height="5.16" fill="#ffdbdb"/>
<rect x="823.9" y="652.66" width="362.9" height="5.16" fill="#888888"/>
<rect x="823.9" y="657.22" width="362.9" height="9.71" fill="#ff1212"/>
<rect x="823.9" y="666.33" width="362.9" height="5.16" fill="#eeeeee"/>
<rect x="823.9" y="670.88" width="362.9" height="5.16" fill="#ffeded"/>
<rect x="823.9" y="675.44" width="362.9" height="5.16" fill="#ffffff"/>
<rect x="823.9" y="680.00" width="362.9" height="5.16" fill="#ffeded"/>
<rect x="823.9" y="684.55" width="362.9" height="9.71" fill="#cccccc"/>
<rect x="823.9" y="693.66" width="362.9" height="5.16" fill="#dddddd"/>
<rect x="823.9" y="698.22" width="362.9" height="5.16" fill="#ffb6b6"/>
<rect x="823.9" y="702.78" width="362.9" height="9.71" fill="#ffdbdb"/>
<rect x="823.9" y="711.89" width="362.9" height="5.16" fill="#ffc8c8"/>
<rect x="823.9" y="716.44" width="362.9" height="5.16" fill="#ffdbdb"/>
<rect x="823.9" y="721.00" width="362.9" height="9.71" fill="#ffeded"/>
<rect x="823.9" y="730.11" width="362.9" height="5.16" fill="#ffa4a4"/>
<rect x="823.9" y="734.67" width="362.9" height="5.16" fill="#eeeeee"/>
<rect x="823.9" y="739.22" width="362.9" height="5.16" fill="#ffeded"/>
<rect x="823.9" y="743.78" width="362.9" height="5.16" fill="#ffdbdb"/>
<rect x="823.9" y="748.34" width="362.9" height="5.16" fill="#888888"/>
<rect x="823.9" y="752.89" width="362.9" height="5.16" fill="#dddddd"/>
<rect x="823.9" y="757.45" width="362.9" height="5.16" fill="#888888"/>
<rect x="823.9" y="762.00" width="362.9" height="5.16" fill="#ff5b5b"/>
<rect x="823.9" y="766.56" width="362.9" height="5.16" fill="#777777"/>
<rect x="823.9" y="771.12" width="362.9" height="5.16" fill="#ff5b5b"/>
<rect x="823.9" y="775.67" width="362.9" height="5.16" fill="#333333"/>
<rect x="823.9" y="780.23" width="362.9" height="5.16" fill="#aaaaaa"/>
<rect x="823.9" y="784.78" width="362.9" height="5.16" fill="#333333"/>
<rect x="823.9" y="789.34" width="362.9" height="5.16" fill="#111111"/>
<rect x="823.9" y="793.90" width="362.9" height="5.16" fill="#ffb6b6"/>
<rect x="823.9" y="798.45" width="362.9" height="5.16" fill="#111111"/>
<rect x="823.9" y="803.01" width="362.9" height="5.16" fill="#ff6d6d"/>
<rect x="823.9" y="807.56" width="362.9" height="5.16" fill="#444444"/>
<rect x="823.9" y="812.12" width="362.9" height="5.16" fill="#eeeeee"/>
<rect x="823.9" y="816.68" width="362.9" height="9.71" fill="#000000"/>
<rect x="823.9" y="825.79" width="362.9" height="5.16" fill="#ff1212"/>
<rect x="823.9" y="830.34" width="362.9" height="5.16" fill="#111111"/>
<rect x="823.9" y="834.90" width="362.9" height="5.16" fill="#ffeded"/>
<rect x="823.9" y="839.46" width="362.9" height="5.16" fill="#ff1212"/>
<rect x="823.9" y="844.01" width="362.9" height="5.16" fill="#ff4949"/>
<rect x="823.9" y="848.57" width="362.9" height="5.16" fill="#bbbbbb"/>
<rect x="823.9" y="853.12" width="362.9" height="5.16" fill="#ffeded"/>
<rect x="823.9" y="857.68" width="362.9" height="5.16" fill="#ff8080"/>
<rect x="823.9" y="862.24" width="362.9" height="5.16" fill="#ff2424"/>
<rect x="823.9" y="866.79" width="362.9" height="5.16" fill="#ffdbdb"/>
<rect x="823.9" y="871.35" width="362.9" height="5.16" fill="#ff2424"/>
<rect x="823.9" y="875.90" width="362.9" height="5.16" fill="#ff1212"/>
<rect x="823.9" y="880.46" width="362.9" height="5.16" fill="#ff8080"/>
<rect x="823.9" y="885.02" width="362.9" height="5.16" fill="#111111"/>
<rect x="823.9" y="889.57" width="362.9" height="5.16" fill="#ffa4a4"/>
<rect x="823.9" y="894.13" width="362.9" height="5.16" fill="#ff1212"/>
<rect x="823.9" y="898.68" width="362.9" height="5.16" fill="#444444"/>
<rect x="823.9" y="903.24" width="362.9" height="5.16" fill="#ff2424"/>
<rect x="823.9" y="907.80" width="362.9" height="18.82" fill="#ff3737"/>
<rect x="823.9" y="926.02" width="362.9" height="5.16" fill="#ffeded"/>
<rect x="823.9" y="930.58" width="362.9" height="14.27" fill="#ff3737"/>
<rect x="823.9" y="944.24" width="362.9" height="14.27" fill="#ff1212"/>
<rect x="823.9" y="957.91" width="362.9" height="5.16" fill="#ff2424"/>
<rect x="823.9" y="962.47" width="362.9" height="9.71" fill="#ff0000"/>
<rect x="823.9" y="971.58" width="362.9" height="5.16" fill="#ff2424"/>
<rect x="823.9" y="976.14" width="362.9" height="5.16" fill="#ff1212"/>
<rect x="823.9" y="980.69" width="362.9" height="5.16" fill="#ff3737"/>
<rect x="823.9" y="985.25" width="362.9" height="5.16" fill="#ff4949"/>
<rect x="823.9" y="989.80" width="362.9" height="5.16" fill="#ff2424"/>
<rect x="823.9" y="994.36" width="362.9" height="5.16" fill="#ff1212"/>
<rect x="823.9" y="998.92" width="362.9" height="5.16" fill="#ff2424"/>
<rect x="823.9" y="1003.47" width="362.9" height="5.16" fill="#ffc8c8"/>
<rect x="823.9" y="1008.03" width="362.9" height="14.27" fill="#ff2424"/>
<rect x="823.9" y="1021.70" width="362.9" height="5.16" fill="#cccccc"/>
<rect x="823.9" y="1026.25" width="362.9" height="5.16" fill="#ff3737"/>
<rect x="823.9" y="1030.81" width="362.9" height="5.16" fill="#ff2424"/>
<rect x="823.9" y="1035.36" width="362.9" height="5.16" fill="#ffdbdb"/>
<rect x="823.9" y="1039.92" width="362.9" height="5.16" fill="#777777"/>
<rect x="823.9" y="1044.48" width="362.9" height="9.71" fill="#ff1212"/>
<rect x="823.9" y="1053.59" width="362.9" height="5.16" fill="#ffffff"/>
<rect x="823.9" y="1058.14" width="362.9" height="5.16" fill="#ffeded"/>
<rect x="823.9" y="1062.70" width="362.9" height="5.16" fill="#eeeeee"/>
<rect x="823.9" y="1067.26" width="362.9" height="5.16" fill="#bbbbbb"/>
<rect x="823.9" y="1071.81" width="362.9" height="5.16" fill="#dddddd"/>
<rect x="823.9" y="1076.37" width="362.9" height="5.16" fill="#aaaaaa"/>
<rect x="823.9" y="1080.92" width="362.9" height="5.16" fill="#999999"/>
<rect x="823.9" y="1085.48" width="362.9" height="5.16" fill="#ffb6b6"/>
<rect x="823.9" y="1090.04" width="362.9" height="5.16" fill="#ffeded"/>
<rect x="823.9" y="1094.59" width="362.9" height="5.16" fill="#dddddd"/>
<rect x="823.9" y="1099.15" width="362.9" height="5.16" fill="#ffc8c8"/>
<rect x="823.9" y="1103.70" width="362.9" height="5.16" fill="#ffdbdb"/>
<rect x="823.9" y="1108.26" width="362.9" height="9.71" fill="#bbbbbb"/>
<rect x="823.9" y="1117.37" width="362.9" height="5.16" fill="#ff8080"/>
<rect x="823.9" y="1121.93" width="362.9" height="5.16" fill="#999999"/>
<rect x="823.9" y="1126.48" width="362.9" height="5.16" fill="#aaaaaa"/>
<rect x="823.9" y="1131.04" width="362.9" height="5.16" fill="#888888"/>
<rect x="823.9" y="1135.60" width="362.9" height="5.16" fill="#eeeeee"/>
<rect x="823.9" y="1140.15" width="362.9" height="5.16" fill="#555555"/>
<rect x="823.9" y="1144.71" width="362.9" height="5.16" fill="#dddddd"/>
<rect x="823.9" y="1149.26" width="362.9" height="5.16" fill="#666666"/>
<rect x="823.9" y="1153.82" width="362.9" height="5.16" fill="#ff5b5b"/>
<rect x="823.9" y="1158.38" width="362.9" height="5.16" fill="#444444"/>
<rect x="823.9" y="1162.93" width="362.9" height="5.16" fill="#ff6d6d"/>
<rect x="823.9" y="1167.49" width="362.9" height="5.16" fill="#222222"/>
<rect x="823.9" y="1172.04" width="362.9" height="5.16" fill="#777777"/>
<rect x="823.9" y="1176.60" width="362.9" height="5.16" fill="#333333"/>
<rect x="823.9" y="1181.16" width="362.9" height="5.16" fill="#111111"/>
<rect x="823.9" y="1185.71" width="362.9" height="5.16" fill="#ff9292"/>
<rect x="823.9" y="1190.27" width="362.9" height="4.56" fill="#000000"/>
</g>
<rect x="0" y="35" width="1207" height="4" fill="#000"/>
<rect x="0" y="1192" width="1207" height="4" fill="#000"/>
<g>
<rect x="1305" y="36.90" width="66" height="39.20" fill="#ff0000"/>
<rect x="1305" y="75.50" width="66" height="39.20" fill="#ff1212"/>
<rect x="1305" y="114.10" width="66" height="39.20" fill="#ff2424"/>
<rect x="1305" y="152.70" width="66" height="39.20" fill="#ff3737"/>
<rect x="1305" y="191.30" width="66" height="39.20" fill="#ff4949"/>
<rect x="1305" y="229.90" width="66" height="39.20" fill="#ff5b5b"/>
<rect x="1305" y="268.50" width="66" height="39.20" fill="#ff6d6d"/>
<rect x="1305" y="307.10" width="66" height="39.20" fill="#ff8080"/>
<rect x="1305" y="345.70" width="66" height="39.20" fill="#ff9292"/>
<rect x="1305" y="384.30" width="66" height="39.20" fill="#ffa4a4"/>
<rect x="1305" y="422.90" width="66" height="39.20" fill="#ffb6b6"/>
<rect x="1305" y="461.50" width="66" height="39.20" fill="#ffc8c8"/>
<rect x="1305" y="500.10" width="66" height="39.20" fill="#ffdbdb"/>
<rect x="1305" y="538.70" width="66" height="39.20" fill="#ffeded"/>
<rect x="1305" y="577.30" width="66" height="39.20" fill="#ffffff"/>
<rect x="1305" y="615.90" width="66" height="39.20" fill="#eeeeee"/>
<rect x="1305" y="654.50" width="66" height="39.20" fill="#dddddd"/>
<rect x="1305" y="693.10" width="66" height="39.20" fill="#cccccc"/>
<rect x="1305" y="731.70" width="66" height="39.20" fill="#bbbbbb"/>
<rect x="1305" y="770.30" width="66" height="39.20" fill="#aaaaaa"/>
<rect x="1305" y="808.90" width="66" height="39.20" fill="#999999"/>
<rect x="1305" y="847.50" width="66" height="39.20" fill="#888888"/>
<rect x="1305" y="886.10" width="66" height="39.20" fill="#777777"/>
<rect x="1305" y="924.70" width="66" height="39.20" fill="#666666"/>
<rect x="1305" y="963.30" width="66" height="39.20" fill="#555555"/>
<rect x="1305" y="1001.90" width="66" height="39.20" fill="#444444"/>
<rect x="1305" y="1040.50" width="66" height="39.20" fill="#333333"/>
<rect x="1305" y="1079.10" width="66" height="39.20" fill="#222222"/>
<rect x="1305" y="1117.70" width="66" height="39.20" fill="#111111"/>
<rect x="1305" y="1156.30" width="66" height="39.20" fill="#000000"/>
</g>
<rect x="1305.05" y="36.9" width="66" height="1156.8" fill="none" stroke="#000" stroke-width="4.1"/>
<rect x="1371" y="34.80" width="23" height="4.2" fill="#000"/>
<rect x="1371" y="265.45" width="23" height="4.2" fill="#000"/>
<rect x="1371" y="497.20" width="23" height="4.2" fill="#000"/>
<rect x="1371" y="728.90" width="23" height="4.2" fill="#000"/>
<rect x="1371" y="960.20" width="23" height="4.2" fill="#000"/>
<rect x="1371" y="1191.55" width="23" height="4.2" fill="#000"/>
</svg>
<div class="t" id="t1" style="left:168.80px;top:1217.22px;font-size:59.8px;transform:scaleX(0.9059)">T1</div>
<div class="t" id="t2" style="left:571.20px;top:1217.22px;font-size:59.8px;transform:scaleX(0.9614)">T2</div>
<div class="t" id="t3" style="left:972.80px;top:1217.22px;font-size:59.8px;transform:scaleX(0.9294)">T3</div>
<div class="t" id="xtc" style="left:359.80px;top:1304.60px;font-size:58px;transform:scaleX(0.9921)">生育时期</div>
<div class="t" id="xte" style="left:605.40px;top:1302.72px;font-size:59.8px;transform:scaleX(0.9747)">Growth stages</div>
<div class="t" id="c0" style="left:1403.80px;top:-1.78px;font-size:59.8px;transform:scaleX(0.9584)">1.0</div>
<div class="t" id="c1" style="left:1402.60px;top:230.62px;font-size:59.8px;transform:scaleX(0.9641)">0.6</div>
<div class="t" id="c2" style="left:1402.60px;top:462.22px;font-size:59.8px;transform:scaleX(0.9755)">0.2</div>
<div class="t" id="c3" style="left:1402.60px;top:693.72px;font-size:59.8px;transform:scaleX(0.9723)">-0.2</div>
<div class="t" id="c4" style="left:1402.60px;top:925.12px;font-size:59.8px;transform:scaleX(0.9634)">-0.6</div>
<div class="t" id="c5" style="left:1402.60px;top:1156.12px;font-size:59.8px;transform:scaleX(0.9656)">-1.0</div>
<div class="t" id="v1" style="left:1527.20px;top:1031.80px;font-size:58px;transform:rotate(-90deg) scaleX(1.0018)">光谱指标与蛋白质含量的相关系数</div>
<div class="t" id="v2" style="left:1594.80px;top:970.80px;font-size:59.8px;transform:rotate(-90deg) scaleX(0.9749)">Correlation coefficient between</div>
<div class="t" id="v3" style="left:1671.40px;top:1006.80px;font-size:59.8px;transform:rotate(-90deg) scaleX(0.9718)">spectral indices and protein content</div>
</body></html>
